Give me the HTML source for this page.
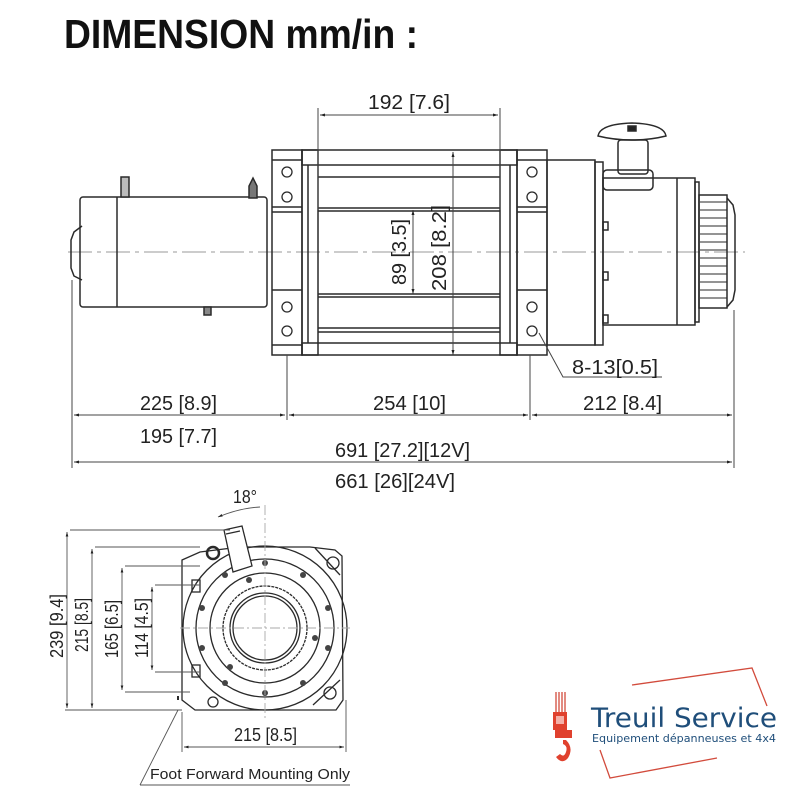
<!DOCTYPE html>
<html><head><meta charset="utf-8"><style>
html,body{margin:0;padding:0;background:#fff;}
svg{display:block;}
text{font-family:"Liberation Sans Narrow","Liberation Sans",sans-serif;fill:#222;}
</style></head><body>
<svg width="800" height="800" viewBox="0 0 800 800" xmlns="http://www.w3.org/2000/svg">
<defs>
<marker id="a" viewBox="0 0 10 10" refX="10" refY="5" markerWidth="7" markerHeight="5" orient="auto-start-reverse"><path d="M0,2 L10,5 L0,8z" fill="#222"/></marker>
</defs>
<text x="64" y="48" font-size="41" font-weight="bold" textLength="354" lengthAdjust="spacingAndGlyphs" style="fill:#111">DIMENSION mm/in :</text>

<g stroke="#2a2a2a" fill="none" stroke-width="1.5">
<line x1="68" y1="252" x2="745" y2="252" stroke="#999" stroke-width="1" stroke-dasharray="24,5,4,5"/>
<rect x="80" y="197" width="187" height="110" rx="3"/>
<line x1="117" y1="197" x2="117" y2="307"/>
<path d="M82,226 L74,232 L71,240 L71,268 L74,276 L82,280"/>
<rect x="121" y="177" width="8" height="20" fill="#bbb"/>
<path d="M249,198 L249,186 L253,178 L257,186 L257,198 Z" fill="#777"/>
<rect x="204" y="307" width="7" height="8" fill="#888"/>
<rect x="272" y="150" width="30" height="205"/>
<line x1="272" y1="160" x2="302" y2="160"/>
<line x1="272" y1="207" x2="302" y2="207"/><line x1="272" y1="212" x2="302" y2="212"/>
<line x1="272" y1="290" x2="302" y2="290"/><line x1="272" y1="345" x2="302" y2="345"/>
<rect x="302" y="150" width="16" height="205"/>
<line x1="308" y1="165" x2="308" y2="343"/>
<rect x="302" y="150" width="215" height="15"/>
<rect x="302" y="343" width="215" height="12"/>
<line x1="318" y1="177" x2="500" y2="177"/>
<line x1="318" y1="208" x2="500" y2="208"/><line x1="318" y1="211" x2="500" y2="211"/>
<line x1="318" y1="294" x2="500" y2="294"/><line x1="318" y1="297" x2="500" y2="297"/>
<line x1="318" y1="328" x2="500" y2="328"/><line x1="318" y1="332" x2="500" y2="332"/>
<rect x="500" y="150" width="17" height="205"/>
<line x1="510" y1="165" x2="510" y2="343"/>
<rect x="517" y="150" width="30" height="205"/>
<line x1="517" y1="160" x2="547" y2="160"/>
<line x1="517" y1="207" x2="547" y2="207"/><line x1="517" y1="212" x2="547" y2="212"/>
<line x1="517" y1="290" x2="547" y2="290"/><line x1="517" y1="345" x2="547" y2="345"/>
<g stroke-width="1.3">
<circle cx="287" cy="172" r="5"/><circle cx="287" cy="197" r="5"/><circle cx="287" cy="307" r="5"/><circle cx="287" cy="331" r="5"/>
<circle cx="532" cy="172" r="5"/><circle cx="532" cy="197" r="5"/><circle cx="532" cy="307" r="5"/><circle cx="532" cy="331" r="5"/>
</g>
<rect x="547" y="160" width="48" height="185"/>
<rect x="595" y="162" width="8" height="183"/>
<rect x="603" y="178" width="92" height="147"/>
<line x1="677" y1="178" x2="677" y2="325"/>
<rect x="695" y="182" width="4" height="140"/>
<rect x="699" y="195" width="28" height="113"/>
<path d="M727,198 L733,205 L735,215 L735,290 L733,300 L727,307"/>
<g stroke-width="0.9">
<line x1="700" y1="202" x2="727" y2="202"/><line x1="700" y1="210" x2="727" y2="210"/><line x1="700" y1="218" x2="727" y2="218"/><line x1="700" y1="226" x2="727" y2="226"/><line x1="700" y1="234" x2="727" y2="234"/><line x1="700" y1="242" x2="727" y2="242"/><line x1="700" y1="250" x2="727" y2="250"/><line x1="700" y1="258" x2="727" y2="258"/><line x1="700" y1="266" x2="727" y2="266"/><line x1="700" y1="274" x2="727" y2="274"/><line x1="700" y1="282" x2="727" y2="282"/><line x1="700" y1="290" x2="727" y2="290"/><line x1="700" y1="298" x2="727" y2="298"/>
</g>
<rect x="603" y="222" width="5" height="8"/><rect x="603" y="272" width="5" height="8"/><rect x="603" y="315" width="5" height="8"/>
<rect x="603" y="170" width="50" height="20" rx="4"/>
<rect x="618" y="140" width="30" height="34" rx="3"/>
<path d="M598,136 Q600,124 632,123 Q664,124 666,136 Q650,140 632,140 Q614,140 598,136 Z"/>
<rect x="628" y="126" width="8" height="5" fill="#222"/>
</g>

<g stroke="#444" stroke-width="1">
<line x1="318" y1="108" x2="318" y2="210"/><line x1="500" y1="108" x2="500" y2="210"/>
<line x1="320" y1="115" x2="498" y2="115" marker-start="url(#a)" marker-end="url(#a)"/>
<line x1="453" y1="152" x2="453" y2="355" marker-start="url(#a)" marker-end="url(#a)"/>
<line x1="413" y1="210" x2="413" y2="294" marker-start="url(#a)" marker-end="url(#a)"/>
<polyline points="539,333 563,377 662,377" fill="none"/>
<line x1="72" y1="280" x2="72" y2="468"/><line x1="734" y1="310" x2="734" y2="468"/>
<line x1="287" y1="355" x2="287" y2="420"/><line x1="530" y1="355" x2="530" y2="420"/>
<line x1="74" y1="415" x2="285" y2="415" marker-start="url(#a)" marker-end="url(#a)"/>
<line x1="289" y1="415" x2="528" y2="415" marker-start="url(#a)" marker-end="url(#a)"/>
<line x1="532" y1="415" x2="732" y2="415" marker-start="url(#a)" marker-end="url(#a)"/>
<line x1="74" y1="462" x2="732" y2="462" marker-start="url(#a)" marker-end="url(#a)"/>
</g>
<g font-size="20">
<text x="368" y="109" textLength="82" lengthAdjust="spacingAndGlyphs">192 [7.6]</text>
<text transform="translate(406,285) rotate(-90)" textLength="66" lengthAdjust="spacingAndGlyphs">89 [3.5]</text>
<text transform="translate(446,291) rotate(-90)" textLength="86" lengthAdjust="spacingAndGlyphs">208 [8.2]</text>
<text x="572" y="374" textLength="86" lengthAdjust="spacingAndGlyphs">8-13[0.5]</text>
<text x="140" y="410" textLength="77" lengthAdjust="spacingAndGlyphs">225 [8.9]</text>
<text x="373" y="410" textLength="73" lengthAdjust="spacingAndGlyphs">254 [10]</text>
<text x="583" y="410" textLength="79" lengthAdjust="spacingAndGlyphs">212 [8.4]</text>
<text x="140" y="443" textLength="77" lengthAdjust="spacingAndGlyphs">195 [7.7]</text>
<text x="335" y="457" textLength="135" lengthAdjust="spacingAndGlyphs">691 [27.2][12V]</text>
<text x="335" y="488" textLength="120" lengthAdjust="spacingAndGlyphs">661 [26][24V]</text>
</g>

<g stroke="#2a2a2a" fill="none" stroke-width="1.3">
<path d="M182,560 L200,552 L240,547 L310,547 L335,550 L342,556 L343,700 L336,710 L195,710 L182,700 Z"/>
<circle cx="265" cy="628" r="82"/>
<circle cx="265" cy="628" r="69"/>
<circle cx="265" cy="628" r="55"/>
<circle cx="265" cy="628" r="42" stroke-dasharray="3,1"/>
<circle cx="265" cy="628" r="35"/>
<circle cx="265" cy="628" r="32"/>
<circle cx="213" cy="553" r="6" stroke-width="2.5"/>
<circle cx="333" cy="563" r="6"/><circle cx="330" cy="693" r="6"/><circle cx="213" cy="702" r="5"/>
<path d="M315,548 L340,575"/><path d="M313,705 L340,680"/>
<rect x="192" y="580" width="8" height="12"/><rect x="192" y="665" width="8" height="12"/>
<path d="M224,530 L242,526 L252,566 L233,572 Z" fill="#fff"/>
<path d="M226,534 L240,531"/>
<line x1="178" y1="700" x2="178" y2="696" stroke-width="2"/>
</g>
<g fill="#444">
<circle cx="265" cy="563" r="3"/><circle cx="303" cy="575" r="3"/><circle cx="328" cy="608" r="3"/><circle cx="328" cy="648" r="3"/><circle cx="303" cy="683" r="3"/><circle cx="265" cy="693" r="3"/><circle cx="225" cy="683" r="3"/><circle cx="202" cy="648" r="3"/><circle cx="202" cy="608" r="3"/><circle cx="225" cy="575" r="3"/>
<circle cx="249" cy="580" r="3"/><circle cx="315" cy="638" r="3"/><circle cx="230" cy="667" r="3"/>
</g>
<g stroke="#555" stroke-width="0.9" fill="none">
<line x1="70" y1="530" x2="230" y2="530"/><line x1="95" y1="547" x2="200" y2="547"/>
<line x1="125" y1="566" x2="200" y2="566"/><line x1="155" y1="585" x2="200" y2="585"/>
<line x1="155" y1="672" x2="200" y2="672"/><line x1="125" y1="692" x2="190" y2="692"/>
<line x1="65" y1="710" x2="182" y2="710"/>
<line x1="67" y1="532" x2="67" y2="708" marker-start="url(#a)" marker-end="url(#a)"/>
<line x1="92" y1="549" x2="92" y2="708" marker-start="url(#a)" marker-end="url(#a)"/>
<line x1="122" y1="568" x2="122" y2="690" marker-start="url(#a)" marker-end="url(#a)"/>
<line x1="152" y1="587" x2="152" y2="670" marker-start="url(#a)" marker-end="url(#a)"/>
<line x1="182" y1="712" x2="182" y2="752"/><line x1="346" y1="700" x2="346" y2="752"/>
<line x1="184" y1="747" x2="344" y2="747" marker-start="url(#a)" marker-end="url(#a)"/>
<line x1="265" y1="505" x2="265" y2="720" stroke="#aaa" stroke-dasharray="10,3,2,3"/>
<line x1="180" y1="628" x2="350" y2="628" stroke="#aaa" stroke-dasharray="10,3,2,3"/>
<path d="M218,517 Q240,508 260,507" marker-start="url(#a)"/>
<line x1="178" y1="710" x2="140" y2="785"/>
<line x1="140" y1="785" x2="350" y2="785"/>
</g>
<g font-size="18">
<text x="233" y="503" textLength="24" lengthAdjust="spacingAndGlyphs">18°</text>
<text transform="translate(63,658) rotate(-90)" textLength="64" lengthAdjust="spacingAndGlyphs">239 [9.4]</text>
<text transform="translate(88,652) rotate(-90)" textLength="54" lengthAdjust="spacingAndGlyphs">215 [8.5]</text>
<text transform="translate(118,658) rotate(-90)" textLength="58" lengthAdjust="spacingAndGlyphs">165 [6.5]</text>
<text transform="translate(148,658) rotate(-90)" textLength="60" lengthAdjust="spacingAndGlyphs">114 [4.5]</text>
<text x="234" y="741" textLength="63" lengthAdjust="spacingAndGlyphs">215 [8.5]</text>
<text x="150" y="779" font-size="15" textLength="200" lengthAdjust="spacingAndGlyphs">Foot Forward Mounting Only</text>
</g>

<g stroke="#d24b3c" stroke-width="1.3" fill="none">
<polyline points="632,685 752,668 767,706"/>
<polyline points="600,750 610,778 717,758"/>
<line x1="556" y1="692" x2="556" y2="712"/><line x1="559" y1="692" x2="559" y2="712"/><line x1="562" y1="692" x2="562" y2="712"/><line x1="565" y1="692" x2="565" y2="712"/>
</g>
<rect x="553" y="712" width="14" height="18" fill="#e0412e"/>
<rect x="556" y="716" width="8" height="8" fill="#f4b0a8"/>
<rect x="555" y="730" width="17" height="8" fill="#e0412e"/>
<path d="M563,740 L566,740 Q574,748 568,758 Q562,765 556,757 L560,754 Q564,758 566,752 Q568,746 563,744 Z" fill="#e0412e"/>
<text x="591" y="727" font-size="27" style="font-family:'DejaVu Sans','Liberation Sans',sans-serif;fill:#1f4e7a" textLength="186" lengthAdjust="spacingAndGlyphs">Treuil Service</text>
<text x="592" y="742" font-size="11" style="font-family:'DejaVu Sans','Liberation Sans',sans-serif;fill:#1f4e7a" textLength="184" lengthAdjust="spacingAndGlyphs">Equipement dépanneuses et 4x4</text>
</svg>
</body></html>
